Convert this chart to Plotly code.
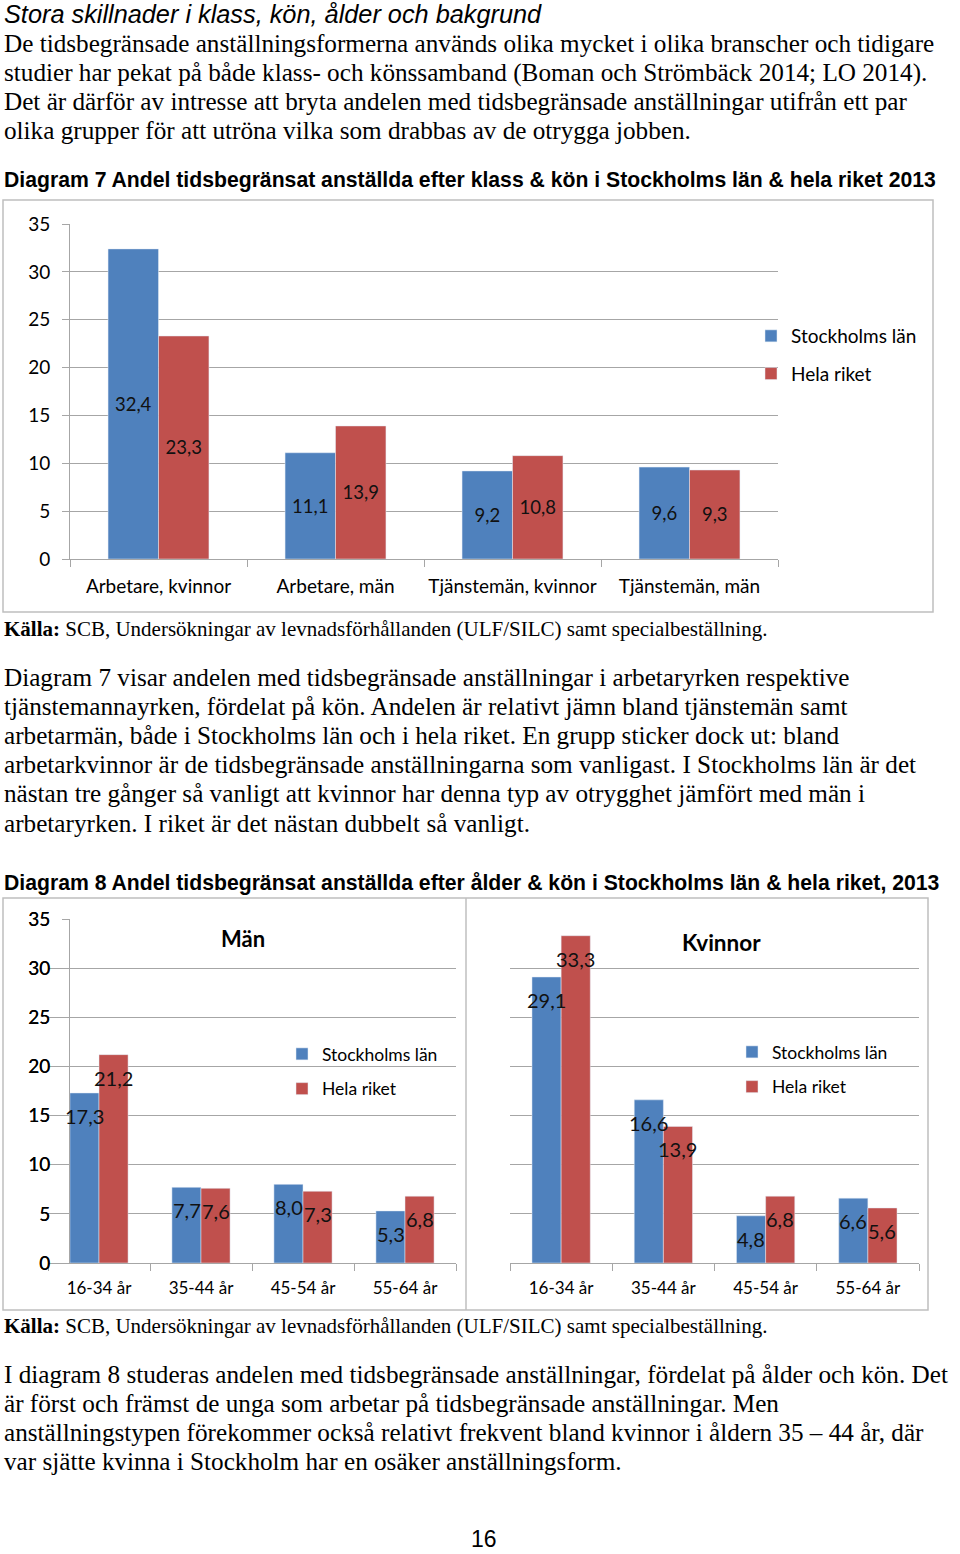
import plotly.graph_objects as go

W, H = 960, 1554

# ---------------- data ----------------
klass_categories = ["Arbetare, kvinnor", "Arbetare, män", "Tjänstemän, kvinnor", "Tjänstemän, män"]
klass_sthlm = [32.4, 11.1, 9.2, 9.6]
klass_riket = [23.3, 13.9, 10.8, 9.3]

age_categories = ["16-34 år", "35-44 år", "45-54 år", "55-64 år"]
man_sthlm = [17.3, 7.7, 8.0, 5.3]
man_riket = [21.2, 7.6, 7.3, 6.8]
kvinnor_sthlm = [29.1, 16.6, 4.8, 6.6]
kvinnor_riket = [33.3, 13.9, 6.8, 5.6]

series_names = ["Stockholms län", "Hela riket"]
y_ticks = [0, 5, 10, 15, 20, 25, 30, 35]

# ---------------- texts ----------------
heading = "Stora skillnader i klass, kön, ålder och bakgrund"
para1 = [
    "De tidsbegränsade anställningsformerna används olika mycket i olika branscher och tidigare",
    "studier har pekat på både klass- och könssamband (Boman och Strömbäck 2014; LO 2014).",
    "Det är därför av intresse att bryta andelen med tidsbegränsade anställningar utifrån ett par",
    "olika grupper för att utröna vilka som drabbas av de otrygga jobben.",
]
title7 = "Diagram 7 Andel tidsbegränsat anställda efter klass & kön i Stockholms län & hela riket 2013"
source = "<b>Källa:</b> SCB, Undersökningar av levnadsförhållanden (ULF/SILC) samt specialbeställning."
para2 = [
    "Diagram 7 visar andelen med tidsbegränsade anställningar i arbetaryrken respektive",
    "tjänstemannayrken, fördelat på kön. Andelen är relativt jämn bland tjänstemän samt",
    "arbetarmän, både i Stockholms län och i hela riket. En grupp sticker dock ut: bland",
    "arbetarkvinnor är de tidsbegränsade anställningarna som vanligast. I Stockholms län är det",
    "nästan tre gånger så vanligt att kvinnor har denna typ av otrygghet jämfört med män i",
    "arbetaryrken. I riket är det nästan dubbelt så vanligt.",
]
title8 = "Diagram 8 Andel tidsbegränsat anställda efter ålder & kön i Stockholms län & hela riket, 2013"
para3 = [
    "I diagram 8 studeras andelen med tidsbegränsade anställningar, fördelat på ålder och kön. Det",
    "är först och främst de unga som arbetar på tidsbegränsade anställningar. Men",
    "anställningstypen förekommer också relativt frekvent bland kvinnor i åldern 35 – 44 år, där",
    "var sjätte kvinna i Stockholm har en osäker anställningsform.",
]
page_number = "16"

BLUE = "#4F81BD"
RED = "#C0504D"
GRID = "#a6a6a6"
FRAME = "#bfbfbf"
CHART_FONT = "Lato"
SERIF = "Liberation Serif"
SANS = "Liberation Sans"
LABEL_COLOR = "#111111"


def X(px):
    return px / W


def Y(py):
    return 1 - py / H


def fmt(v):
    return f"{v:.1f}".replace(".", ",")


fig = go.Figure()

# ---------- Diagram 7 ----------
for vals, name, color, grp in [(klass_sthlm, series_names[0], BLUE, "a1"),
                               (klass_riket, series_names[1], RED, "b1")]:
    fig.add_trace(go.Bar(
        x=klass_categories, y=vals, name=name, marker_color=color,
        text=[fmt(v) for v in vals], textposition="inside", insidetextanchor="middle",
        textangle=0, constraintext="none",
        textfont=dict(family=CHART_FONT, size=18.5, color=LABEL_COLOR),
        xaxis="x", yaxis="y", legend="legend", legendgroup=grp))

# ---------- Diagram 8 ----------
for vals, name, color, xa, ya, lg, grp in [
        (man_sthlm, series_names[0], BLUE, "x2", "y2", "legend2", "a2"),
        (man_riket, series_names[1], RED, "x2", "y2", "legend2", "b2"),
        (kvinnor_sthlm, series_names[0], BLUE, "x3", "y3", "legend3", "a3"),
        (kvinnor_riket, series_names[1], RED, "x3", "y3", "legend3", "b3")]:
    fig.add_trace(go.Bar(x=age_categories, y=vals, name=name, marker_color=color,
                         xaxis=xa, yaxis=ya, legend=lg, legendgroup=grp))

annotations = []

# data labels for diagram 8 (inside end, offset below bar top)
half_bar = 14.5
for xa, ya, s_vals, r_vals in [("x2", "y2", man_sthlm, man_riket),
                               ("x3", "y3", kvinnor_sthlm, kvinnor_riket)]:
    for vals, shift in [(s_vals, -half_bar), (r_vals, half_bar)]:
        for cat, v in zip(age_categories, vals):
            annotations.append(dict(x=cat, y=v, xref=xa, yref=ya, text=fmt(v), showarrow=False,
                                    xshift=shift, yshift=-23, xanchor="center", yanchor="middle",
                                    font=dict(family=CHART_FONT, size=20, color=LABEL_COLOR)))


def text_line(txt, px, py, size, family, color="#000000", xanchor="left", italic=False):
    annotations.append(dict(
        x=X(px), y=Y(py), xref="paper", yref="paper", text=txt, showarrow=False,
        xanchor=xanchor, yanchor="middle", borderpad=0,
        font=dict(family=family, size=size, color=color, style="italic" if italic else "normal")))


text_line(heading, 3, 14, 25.3, SANS, italic=True)
for i, line in enumerate(para1):
    text_line(line, 3, 44 + 29 * i, 25.2, SERIF)
text_line("<b>" + title7 + "</b>", 3, 180, 21.2, SANS)
text_line(source, 3, 629, 21, SERIF)
for i, line in enumerate(para2):
    text_line(line, 3, 677 + 29.2 * i, 25.2, SERIF)
text_line("<b>" + title8 + "</b>", 3, 883, 21.2, SANS)
text_line(source, 3, 1326, 21, SERIF)
for i, line in enumerate(para3):
    text_line(line, 3, 1374 + 29 * i, 25.2, SERIF)
text_line(page_number, 484, 1539, 23, SANS, xanchor="center")

# sub-chart titles
text_line("<b>Män</b>", 243, 938, 22, CHART_FONT, xanchor="center")
text_line("<b>Kvinnor</b>", 721, 942, 22.5, CHART_FONT, xanchor="center")

shapes = [
    dict(type="rect", xref="paper", yref="paper", x0=X(3), x1=X(933), y0=Y(612), y1=Y(200),
         line=dict(color=FRAME, width=1.5), layer="below"),
    dict(type="rect", xref="paper", yref="paper", x0=X(3), x1=X(928), y0=Y(1310), y1=Y(898),
         line=dict(color=FRAME, width=1.5), layer="below"),
    dict(type="line", xref="paper", yref="paper", x0=X(466), x1=X(466), y0=Y(1310), y1=Y(898),
         line=dict(color=FRAME, width=1.5), layer="below"),
]


def yaxis_cfg(domain):
    return dict(domain=domain, range=[0, 35], tickvals=y_ticks, showgrid=True, gridcolor=GRID,
                gridwidth=1, showline=True, linecolor=GRID, linewidth=1, ticks="outside",
                ticklen=7, tickcolor=GRID, zeroline=False,
                tickfont=dict(family=CHART_FONT, size=19, color="#000000"),
                ticklabelstandoff=8, automargin=False, fixedrange=True)


def xaxis_cfg(domain, anchor, size, standoff):
    return dict(domain=domain, anchor=anchor, type="category", showline=True, linecolor=GRID,
                linewidth=1, ticks="outside", tickson="boundaries", ticklen=7, tickcolor=GRID,
                showgrid=False, tickangle=0,
                tickfont=dict(family=CHART_FONT, size=size, color="#000000"),
                ticklabelstandoff=standoff, automargin=False, fixedrange=True)


legend_common = dict(xanchor="left", yanchor="top", bgcolor="rgba(0,0,0,0)", borderwidth=0,
                     traceorder="grouped")

fig.update_layout(
    width=W, height=H,
    margin=dict(l=0, r=0, t=0, b=0, pad=0, autoexpand=False),
    paper_bgcolor="white", plot_bgcolor="white",
    barmode="group", bargap=0.43, bargroupgap=0,
    xaxis=xaxis_cfg([X(70), X(778)], "y", 19, 10),
    yaxis=yaxis_cfg([Y(559), Y(224)]),
    xaxis2=xaxis_cfg([X(48), X(456)], "y2", 17, 10),
    yaxis2=yaxis_cfg([Y(1263), Y(919)]),
    xaxis3=xaxis_cfg([X(510), X(919)], "y3", 17, 10),
    yaxis3=yaxis_cfg([Y(1263), Y(919)]),
    showlegend=True,
    legend=dict(x=X(751), y=Y(317), tracegroupgap=10,
                font=dict(family=CHART_FONT, size=19, color="#000000"), **legend_common),
    legend2=dict(x=X(282), y=Y(1036), tracegroupgap=9,
                 font=dict(family=CHART_FONT, size=17.5, color="#000000"), **legend_common),
    legend3=dict(x=X(732), y=Y(1034), tracegroupgap=9,
                 font=dict(family=CHART_FONT, size=17.5, color="#000000"), **legend_common),
    annotations=annotations,
    shapes=shapes,
    font=dict(family=CHART_FONT),
)

fig.write_html("out.html", config={"displayModeBar": False},
               post_script="document.body.style.margin='0';")
